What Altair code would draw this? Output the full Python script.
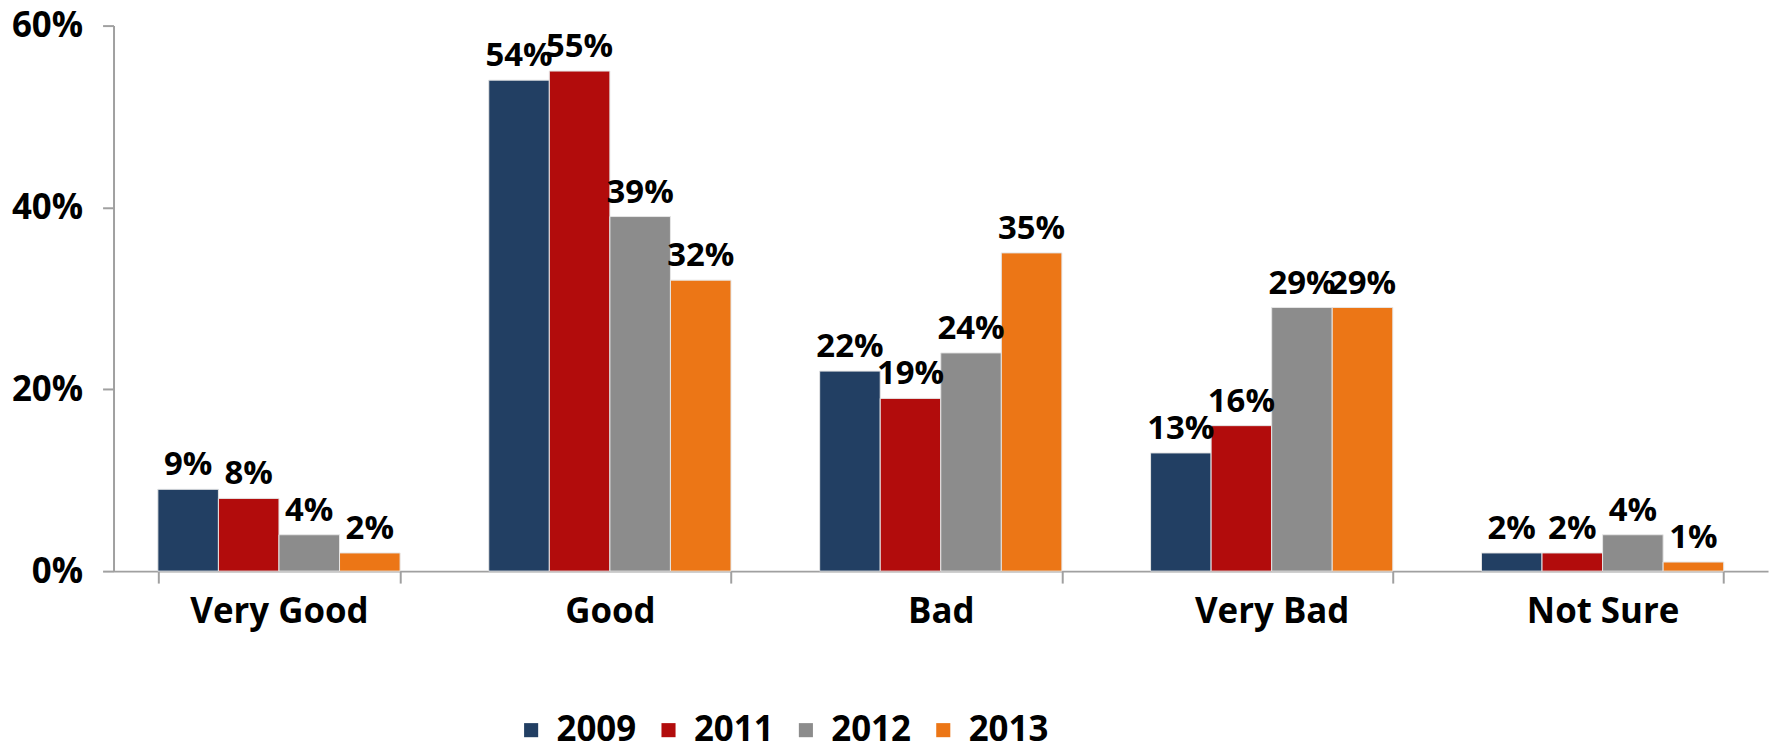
import altair as alt
import pandas as pd

categories = ["Very Good", "Good", "Bad", "Very Bad", "Not Sure"]
years = ["2009", "2011", "2012", "2013"]
v2009 = [0.09, 0.54, 0.22, 0.13, 0.02]
v2011 = [0.08, 0.55, 0.19, 0.16, 0.02]
v2012 = [0.04, 0.39, 0.24, 0.29, 0.04]
v2013 = [0.02, 0.32, 0.35, 0.29, 0.01]
colors = ["#223F63", "#B20C0C", "#8C8C8C", "#EC7616"]

rows = []
for yr, vals in zip(years, [v2009, v2011, v2012, v2013]):
    for c, v in zip(categories, vals):
        rows.append({"category": c, "year": yr, "value": v})
df = pd.DataFrame(rows)

FONT = "Open Sans"

x = alt.X("category:N", sort=categories, title=None,
          scale=alt.Scale(paddingInner=0.268, paddingOuter=0.134),
          axis=alt.Axis(labelAngle=0, labelFont=FONT, labelFontSize=35, labelFontWeight="bold",
                        labelColor="#000", labelPadding=12, tickBand="extent", tickSize=12,
                        tickColor="#A0A0A0", domainColor="#A0A0A0", domainWidth=2, tickWidth=2,
                        grid=False))
xo = alt.XOffset("year:N", sort=years)
y = alt.Y("value:Q", title=None,
          scale=alt.Scale(domain=[0, 0.6], nice=False),
          axis=alt.Axis(values=[0, 0.2, 0.4, 0.6], format=".0%", labelFont=FONT, labelFontSize=35,
                        labelFontWeight="bold", labelColor="#000", labelPadding=20, tickSize=11,
                        tickColor="#A0A0A0", domainColor="#A0A0A0", domainWidth=2, tickWidth=2,
                        grid=False))

bars = alt.Chart(df).mark_bar(stroke="#E6E6E6", strokeWidth=1).encode(
    x=x, xOffset=xo, y=y,
    color=alt.Color("year:N", sort=years, title=None,
                    scale=alt.Scale(domain=years, range=colors),
                    legend=alt.Legend(orient="none", legendX=402, legendY=690, direction="horizontal",
                                      columns=4, symbolType="square", symbolSize=200,
                                      symbolStrokeWidth=0, labelFont="Liberation Sans Narrow, Open Sans",
                                      labelFontSize=35, labelFontWeight="bold", labelColor="#000",
                                      columnPadding=14, labelOffset=8)),
)

labels = alt.Chart(df).mark_text(baseline="bottom", dy=-7, font=FONT, fontSize=33,
                                 fontWeight="bold", color="#000").encode(
    x=x, xOffset=xo, y=y,
    text=alt.Text("value:Q", format=".0%"),
)

chart = alt.layer(bars, labels).properties(
    width=1662, height=548,
    background="white",
    autosize=alt.AutoSizeParams(type="none"),
    padding={"left": 106, "top": 16, "right": 7, "bottom": 178},
).configure_view(stroke=None)

chart.save("out.html", embed_options={"renderer": "svg", "actions": False})
